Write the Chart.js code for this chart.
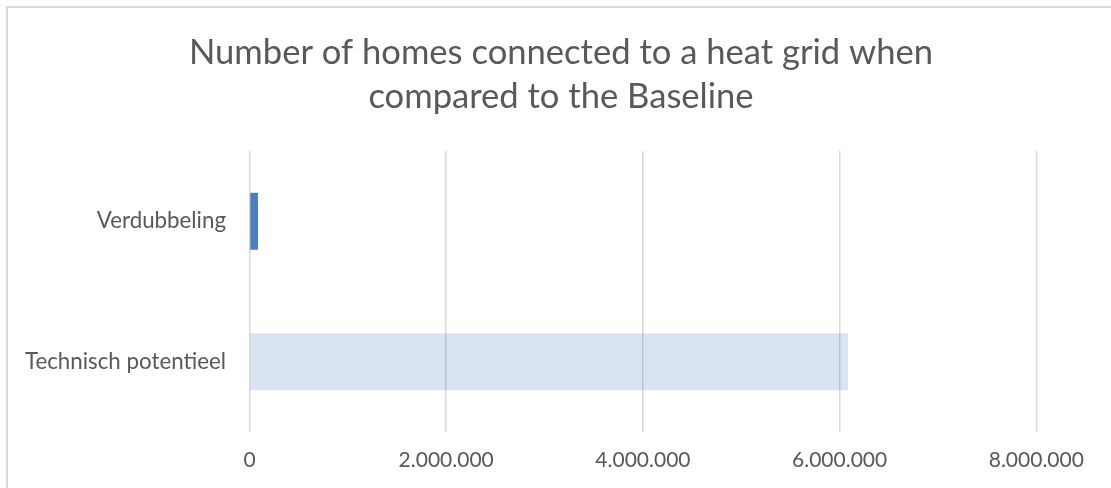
<!DOCTYPE html>
<html>
<head>
<meta charset="utf-8">
<script src="https://cdn.jsdelivr.net/npm/chart.js@4"></script>
<style>
  html, body { margin: 0; padding: 0; overflow: hidden; background: #fff; }
  #frame {
    position: absolute;
    left: 6px;
    top: 6px;
    width: 1111px;
    height: 488px;
    border: 2px solid #d9d9d9;
  }
  #chart { display: block; }
</style>
</head>
<body>
<div id="frame">
  <canvas id="chart" width="1111" height="488"></canvas>
</div>
<script>
const categories = ['Verdubbeling', 'Technisch potentieel'];
const homes = [86000, 6085000];
const barColors = ['#4a7dc4', 'rgba(68, 114, 196, 0.2)'];
const xTicks = [0, 2000000, 4000000, 6000000, 8000000];

const textGray = '#595959';
const gridGray = '#d9d9d9';

function formatDots(v) {
    return v.toString().replace(/\B(?=(\d{3})+(?!\d))/g, '.');
}

document.addEventListener('DOMContentLoaded', function() {
    const ctx = document.getElementById('chart').getContext('2d');
    new Chart(ctx, {
        type: 'bar',
        data: {
            labels: categories,
            datasets: [{
                label: 'Homes',
                data: homes,
                backgroundColor: barColors,
                borderWidth: 0,
                categoryPercentage: 1,
                barPercentage: 0.406
            }]
        },
        options: {
            indexAxis: 'y',
            responsive: false,
            animation: false,
            layout: {
                padding: { left: 0, right: 5, top: 0, bottom: 0 }
            },
            plugins: {
                legend: { display: false },
                tooltip: { enabled: false },
                title: {
                    display: true,
                    text: ['Number of homes connected to a heat grid when', 'compared to the Baseline'],
                    color: textGray,
                    font: { family: 'Lato', size: 34.6, weight: 'normal', lineHeight: 1.27 },
                    padding: { top: 23, bottom: 32 }
                }
            },
            scales: {
                x: {
                    min: 0,
                    max: 8000000,
                    afterBuildTicks: function(scale) {
                        scale.ticks = xTicks.map(v => ({ value: v }));
                    },
                    afterFit: function(scale) {
                        scale.height = 64;
                    },
                    grid: {
                        color: gridGray,
                        lineWidth: 1.5,
                        drawTicks: false
                    },
                    border: { display: false },
                    ticks: {
                        color: textGray,
                        padding: 16,
                        maxRotation: 0,
                        font: { family: 'Lato', size: 21 },
                        callback: function(value) {
                            return formatDots(value);
                        }
                    }
                },
                y: {
                    afterFit: function(scale) {
                        scale.width = 241.5;
                    },
                    grid: { display: false, drawTicks: false },
                    border: { display: false },
                    ticks: {
                        color: textGray,
                        padding: 23.5,
                        font: { family: 'Lato', size: 22.3 }
                    }
                },
                // empty strip on the right so the plot stops short of the frame
                spacer: {
                    type: 'linear',
                    position: 'right',
                    afterFit: function(scale) {
                        scale.width = 77.7;
                    },
                    grid: { display: false },
                    border: { display: false },
                    ticks: { display: false }
                }
            }
        }
    });
});
</script>
</body>
</html>
